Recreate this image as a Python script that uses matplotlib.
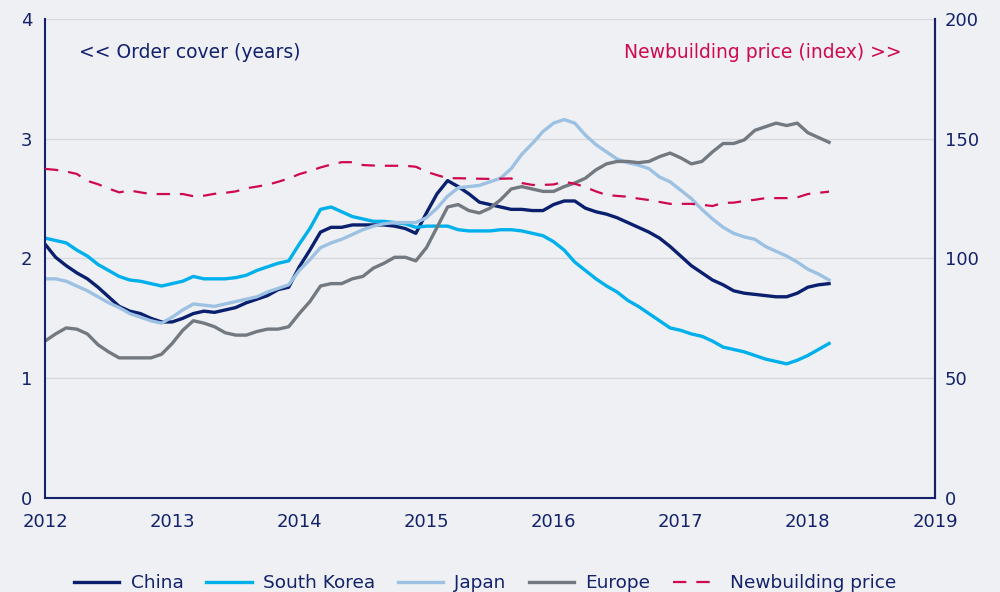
import matplotlib
matplotlib.use("Agg")
import matplotlib.pyplot as plt
import numpy as np
import pandas as pd

# monthly, Jan 2012 - Mar 2018
dates = pd.date_range("2012-01-01", "2018-03-01", freq="MS")

china = [2.12, 2.01, 1.94, 1.88, 1.83, 1.76, 1.68, 1.60, 1.56, 1.54, 1.50, 1.47,
         1.47, 1.50, 1.54, 1.56, 1.55, 1.57, 1.59, 1.63, 1.66, 1.69, 1.74, 1.76,
         1.93, 2.07, 2.22, 2.26, 2.26, 2.28, 2.28, 2.28, 2.28, 2.27, 2.25, 2.21,
         2.38, 2.54, 2.65, 2.60, 2.54, 2.47, 2.45, 2.43, 2.41, 2.41, 2.40, 2.40,
         2.45, 2.48, 2.48, 2.42, 2.39, 2.37, 2.34, 2.30, 2.26, 2.22, 2.17, 2.10,
         2.02, 1.94, 1.88, 1.82, 1.78, 1.73, 1.71, 1.70, 1.69, 1.68, 1.68, 1.71,
         1.76, 1.78, 1.79]

south_korea = [2.17, 2.15, 2.13, 2.07, 2.02, 1.95, 1.90, 1.85, 1.82, 1.81, 1.79, 1.77,
               1.79, 1.81, 1.85, 1.83, 1.83, 1.83, 1.84, 1.86, 1.90, 1.93, 1.96, 1.98,
               2.12, 2.25, 2.41, 2.43, 2.39, 2.35, 2.33, 2.31, 2.31, 2.30, 2.29, 2.26,
               2.27, 2.27, 2.27, 2.24, 2.23, 2.23, 2.23, 2.24, 2.24, 2.23, 2.21, 2.19,
               2.14, 2.07, 1.97, 1.90, 1.83, 1.77, 1.72, 1.65, 1.60, 1.54, 1.48, 1.42,
               1.40, 1.37, 1.35, 1.31, 1.26, 1.24, 1.22, 1.19, 1.16, 1.14, 1.12, 1.15,
               1.19, 1.24, 1.29]

japan = [1.83, 1.83, 1.81, 1.77, 1.73, 1.68, 1.63, 1.59, 1.54, 1.51, 1.48, 1.46,
         1.51, 1.57, 1.62, 1.61, 1.60, 1.62, 1.64, 1.66, 1.68, 1.72, 1.75, 1.78,
         1.90, 1.99, 2.09, 2.13, 2.16, 2.20, 2.24, 2.27, 2.29, 2.30, 2.30, 2.30,
         2.34, 2.42, 2.52, 2.59, 2.60, 2.61, 2.64, 2.67, 2.75, 2.87, 2.96, 3.06,
         3.13, 3.16, 3.13, 3.03, 2.95, 2.89, 2.83, 2.80, 2.78, 2.75, 2.68, 2.64,
         2.57, 2.50, 2.41, 2.33, 2.26, 2.21, 2.18, 2.16, 2.10, 2.06, 2.02, 1.97,
         1.91, 1.87, 1.82]

europe = [1.31, 1.37, 1.42, 1.41, 1.37, 1.28, 1.22, 1.17, 1.17, 1.17, 1.17, 1.20,
          1.29, 1.40, 1.48, 1.46, 1.43, 1.38, 1.36, 1.36, 1.39, 1.41, 1.41, 1.43,
          1.54, 1.64, 1.77, 1.79, 1.79, 1.83, 1.85, 1.92, 1.96, 2.01, 2.01, 1.98,
          2.09, 2.26, 2.43, 2.45, 2.40, 2.38, 2.42, 2.49, 2.58, 2.60, 2.58, 2.56,
          2.56, 2.60, 2.63, 2.67, 2.74, 2.79, 2.81, 2.81, 2.80, 2.81, 2.85, 2.88,
          2.84, 2.79, 2.81, 2.89, 2.96, 2.96, 2.99, 3.07, 3.10, 3.13, 3.11, 3.13,
          3.05, 3.01, 2.97]

newbuilding = [137.4, 137.0, 136.3, 135.3, 132.4, 131.0, 129.2, 127.6, 128.4, 127.6, 126.9, 126.9,
               126.9, 126.9, 126.0, 126.2, 127.0, 127.4, 128.0, 129.3, 130.0, 130.8, 132.0, 133.4,
               135.2, 136.5, 138.0, 139.2, 140.2, 140.2, 139.0, 138.8, 138.7, 138.7, 138.7, 138.3,
               136.2, 134.8, 133.5, 133.5, 133.4, 133.3, 133.2, 133.3, 133.4, 131.5, 130.7, 130.7,
               130.9, 132.0, 131.2, 129.8, 128.0, 126.5, 126.1, 125.8, 125.0, 124.4, 123.6, 122.8,
               122.8, 122.8, 122.4, 121.9, 123.2, 123.3, 124.0, 124.5, 125.2, 125.2, 125.2, 125.5,
               126.9, 127.4, 127.9]

x = dates.year + (dates.month - 1) / 12

navy = "#13226b"
bg = "#eef0f3"
col_china = "#0a1f6e"
col_korea = "#00b0ec"
col_japan = "#9cc1e2"
col_europe = "#737980"
col_price = "#d0094f"

plt.rcParams["font.family"] = ["DejaVu Sans"]

fig = plt.figure(figsize=(10, 5.92), dpi=100, facecolor=bg)
ax = fig.add_axes([0.045, 0.1588, 0.89, 0.8092], facecolor=bg)
ax2 = ax.twinx()

lw = 2.4
l1, = ax.plot(x, china, color=col_china, lw=lw, label="China")
l2, = ax.plot(x, south_korea, color=col_korea, lw=lw, label="South Korea")
l3, = ax.plot(x, japan, color=col_japan, lw=lw, label="Japan")
l4, = ax.plot(x, europe, color=col_europe, lw=lw, label="Europe")
l5, = ax2.plot(x, newbuilding, color=col_price, lw=1.6, dashes=(6, 4.5),
               label="Newbuilding price")

ax.set_xlim(2012, 2019)
ax.set_ylim(0, 4)
ax2.set_ylim(0, 200)
ax.set_xticks(range(2012, 2020))
ax.set_yticks([0, 1, 2, 3, 4])
ax2.set_yticks([0, 50, 100, 150, 200])

ax.grid(axis="y", color="#d6d8dc", lw=1)
ax.set_axisbelow(True)

for a in (ax, ax2):
    a.spines["top"].set_visible(False)
    for s in ("left", "right", "bottom"):
        a.spines[s].set_color(navy)
        a.spines[s].set_linewidth(1.5)
    a.tick_params(length=0, labelsize=13, colors=navy)
ax.tick_params(axis="y", pad=9)
ax.tick_params(axis="x", pad=11)
ax2.tick_params(axis="y", pad=7)
ax2.spines["left"].set_visible(False)
ax2.spines["bottom"].set_visible(False)

ax.text(0.038, 0.93, "<< Order cover (years)", transform=ax.transAxes,
        fontsize=13.5, color=navy, ha="left", va="center")
ax.text(0.962, 0.93, "Newbuilding price (index) >>", transform=ax.transAxes,
        fontsize=13.5, color=col_price, ha="right", va="center")

leg = fig.legend(handles=[l1, l2, l3, l4, l5], loc="center", ncol=5,
                 bbox_to_anchor=(0.485, 0.015), frameon=False, fontsize=13.3,
                 handlelength=2.45, columnspacing=1.25, handletextpad=0.6)
for t in leg.get_texts():
    t.set_color(navy)

fig.savefig("out.png", dpi=100, facecolor=bg)
